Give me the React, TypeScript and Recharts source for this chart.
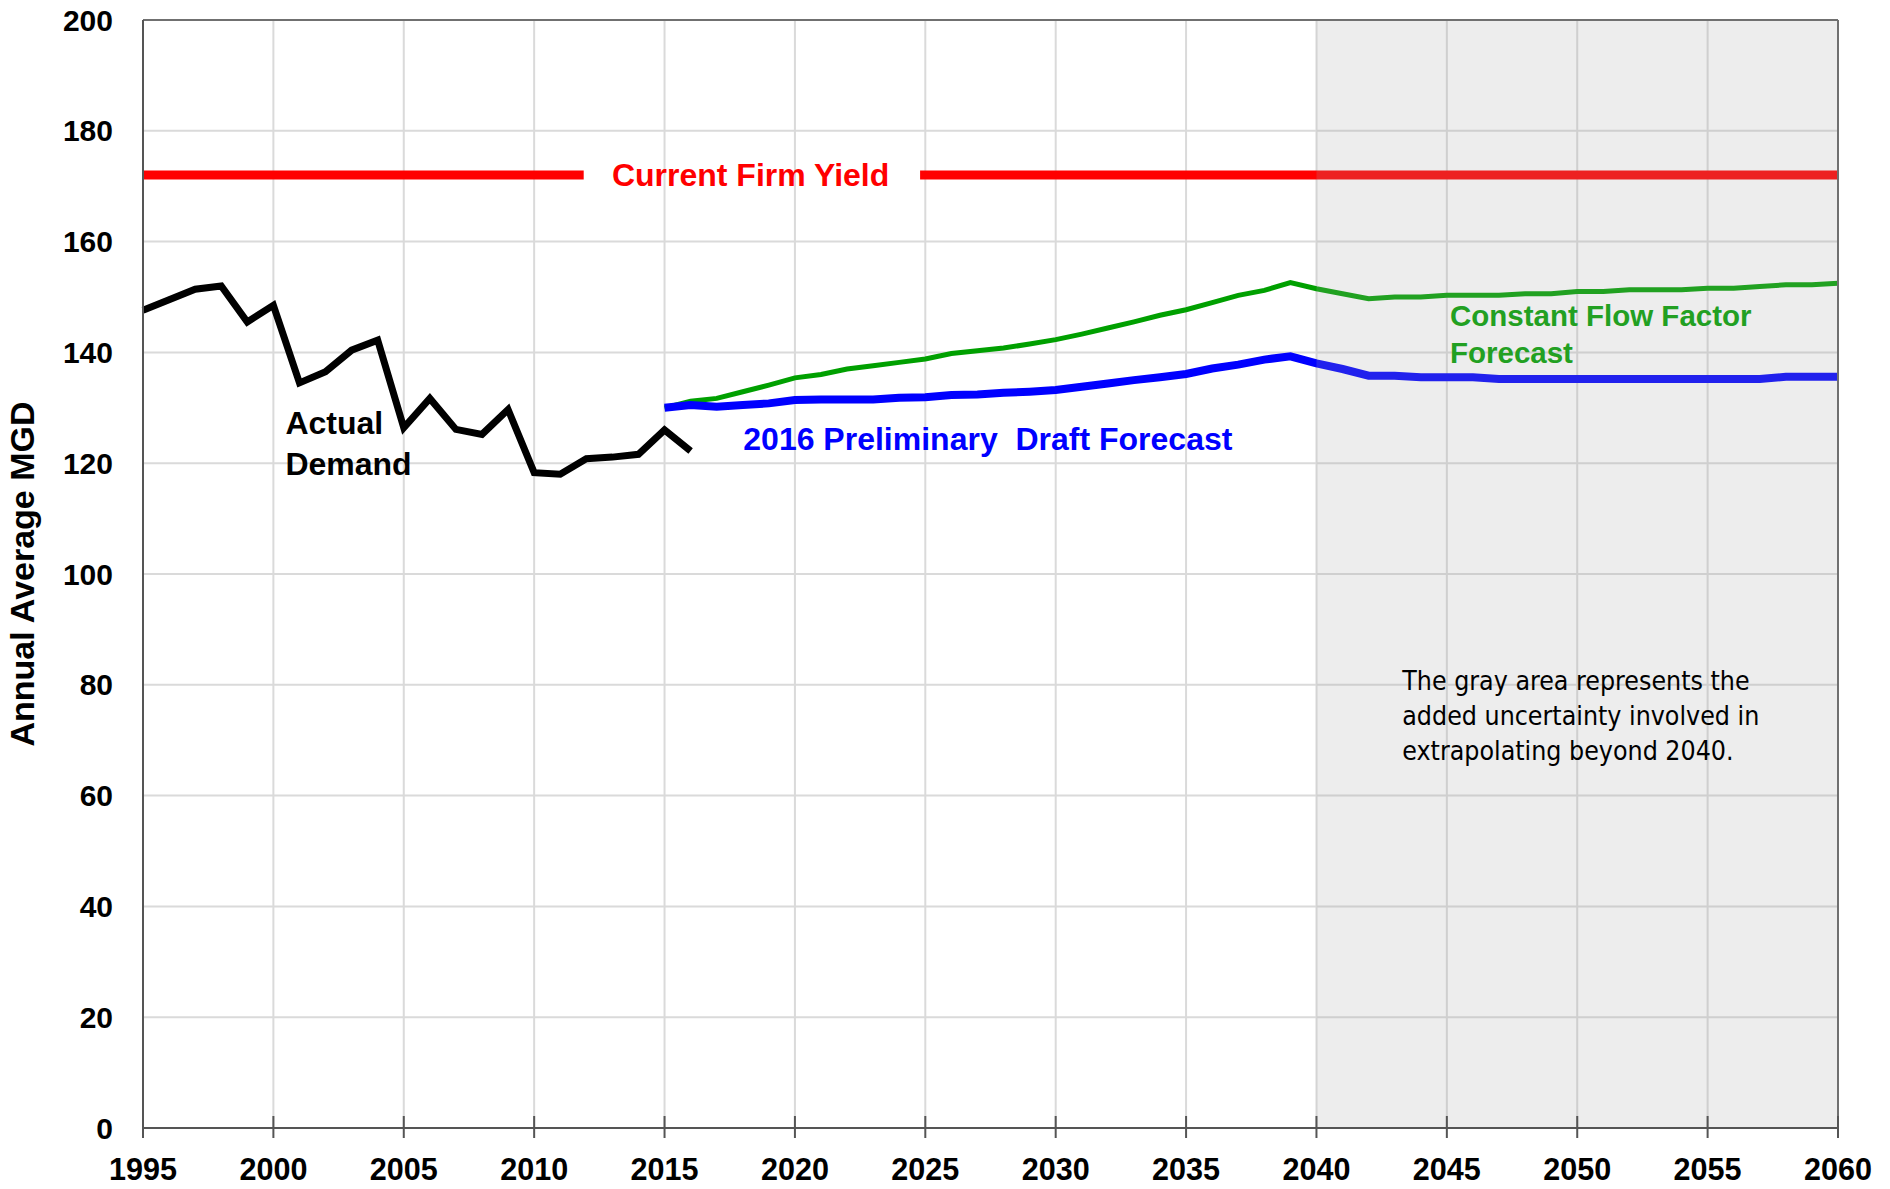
import React from "react";
import {
  LineChart,
  Line,
  XAxis,
  YAxis,
  CartesianGrid,
  ReferenceArea,
  ReferenceLine,
  ReferenceDot,
} from "recharts";

// years on the x axis
const YEARS = [
  1995, 1996, 1997, 1998, 1999, 2000, 2001, 2002, 2003, 2004, 2005, 2006,
  2007, 2008, 2009, 2010, 2011, 2012, 2013, 2014, 2015, 2016, 2017, 2018,
  2019, 2020, 2021, 2022, 2023, 2024, 2025, 2026, 2027, 2028, 2029, 2030,
  2031, 2032, 2033, 2034, 2035, 2036, 2037, 2038, 2039, 2040, 2041, 2042,
  2043, 2044, 2045, 2046, 2047, 2048, 2049, 2050, 2051, 2052, 2053, 2054,
  2055, 2056, 2057, 2058, 2059, 2060,
];

// Actual demand, 1995 - 2016
const ACTUAL_START = 1995;
const ACTUAL = [
  147.6, 149.5, 151.4, 152.0, 145.5, 148.5, 134.5, 136.5, 140.4, 142.2, 126.4,
  131.7, 126.1, 125.2, 129.7, 118.3, 118.0, 120.8, 121.1, 121.6, 126.0, 122.2,
];

// forecasts, 2015 - 2060
const FORECAST_START = 2015;
const DRAFT_FORECAST = [
  130.0, 130.5, 130.2, 130.5, 130.8, 131.4, 131.5, 131.5, 131.5, 131.8, 131.9,
  132.3, 132.4, 132.7, 132.9, 133.2, 133.8, 134.4, 135.0, 135.5, 136.1, 137.1,
  137.8, 138.7, 139.3, 138.0, 137.0, 135.8, 135.8, 135.5, 135.5, 135.5, 135.2,
  135.2, 135.2, 135.2, 135.2, 135.2, 135.2, 135.2, 135.2, 135.2, 135.2, 135.6,
  135.6, 135.6,
];
const FLOW_FACTOR_FORECAST = [
  130.0, 131.2, 131.7, 132.9, 134.1, 135.4, 136.0, 137.0, 137.6, 138.2, 138.8,
  139.8, 140.3, 140.8, 141.5, 142.3, 143.3, 144.4, 145.5, 146.7, 147.7, 149.0,
  150.3, 151.2, 152.6, 151.5, 150.6, 149.7, 150.0, 150.0, 150.3, 150.3, 150.3,
  150.6, 150.6, 151.0, 151.0, 151.3, 151.3, 151.3, 151.6, 151.6, 151.9, 152.2,
  152.2, 152.5,
];

const FIRM_YIELD = 172;
const FIRM_YIELD_SEGMENTS = [
  [1995, 2011.9],
  [2024.8, 2060],
];

const X_TICKS = [
  1995, 2000, 2005, 2010, 2015, 2020, 2025, 2030, 2035, 2040, 2045, 2050,
  2055, 2060,
];
const Y_TICKS = [0, 20, 40, 60, 80, 100, 120, 140, 160, 180, 200];
const UNCERTAIN_FROM = 2040;

const NOTE_LINES = [
  "The gray area represents the",
  "added uncertainty involved in",
  "extrapolating beyond 2040.",
];

const data = YEARS.map((year) => {
  const a = year - ACTUAL_START;
  const f = year - FORECAST_START;
  return {
    year,
    actual: a >= 0 && a < ACTUAL.length ? ACTUAL[a] : null,
    draft: f >= 0 ? DRAFT_FORECAST[f] : null,
    flow: f >= 0 ? FLOW_FACTOR_FORECAST[f] : null,
  };
});

const FONT = "'Liberation Sans', Arial, sans-serif";

const XTick = (props: any) => {
  const { x, y, payload } = props;
  return (
    <g>
      <line x1={x} x2={x} y1={y - 12} y2={y + 10} stroke="#555" strokeWidth={2} />
      <text
        x={x}
        y={y + 52}
        textAnchor="middle"
        fontFamily={FONT}
        fontWeight="bold"
        fontSize={32}
        textLength={68}
        lengthAdjust="spacingAndGlyphs"
        fill="#000"
      >
        {payload.value}
      </text>
    </g>
  );
};

const textShape =
  (lines: string[], color: string, size: number, lineGap: number, opts: any = {}) =>
  (p: any) =>
    (
      <text
        x={p.cx}
        y={p.cy}
        fill={color}
        fontFamily={opts.family || FONT}
        fontWeight={opts.weight || "bold"}
        fontSize={size}
        textAnchor={opts.anchor || "start"}
        style={{ whiteSpace: "pre" }}
      >
        {lines.map((l, i) => (
          <tspan key={i} x={p.cx} dy={i === 0 ? 0 : lineGap}>
            {l}
          </tspan>
        ))}
      </text>
    );

export default function App() {
  return (
    <div style={{ position: "absolute", left: 0, top: 0, width: 1890, height: 1189, background: "#fff" }}>
      <LineChart
        width={1890}
        height={1189}
        data={data}
        margin={{ top: 20, right: 52, bottom: 0, left: 0 }}
      >
        <CartesianGrid stroke="#dadada" strokeWidth={2} />
        <XAxis
          dataKey="year"
          type="number"
          domain={[1995, 2060]}
          ticks={X_TICKS}
          interval={0}
          height={61}
          tickSize={0}
          tickMargin={0}
          tickLine={false}
          axisLine={{ stroke: "#555", strokeWidth: 2 }}
          tick={<XTick />}
        />
        <YAxis
          type="number"
          domain={[0, 200]}
          ticks={Y_TICKS}
          interval={0}
          width={143}
          tickSize={0}
          tickMargin={30}
          tickLine={false}
          axisLine={{ stroke: "#555", strokeWidth: 2 }}
          tick={{ fill: "#000", fontSize: 30, fontWeight: "bold", fontFamily: FONT }}
          label={{
            value: "Annual Average MGD",
            angle: -90,
            position: "insideLeft",
            offset: 22,
            style: { textAnchor: "middle", fontSize: 34, fontWeight: "bold", fontFamily: FONT, fill: "#000" },
          }}
        />
        {FIRM_YIELD_SEGMENTS.map(([x1, x2], i) => (
          <ReferenceLine
            key={i}
            segment={[
              { x: x1, y: FIRM_YIELD },
              { x: x2, y: FIRM_YIELD },
            ]}
            stroke="#ff0000"
            strokeWidth={9}
            zIndex={400}
          />
        ))}
        <Line
          dataKey="flow"
          stroke="#00a000"
          strokeWidth={5}
          dot={false}
          isAnimationActive={false}
        />
        <Line
          dataKey="draft"
          stroke="#0000ff"
          strokeWidth={8}
          dot={false}
          isAnimationActive={false}
        />
        <Line
          dataKey="actual"
          stroke="#000"
          strokeWidth={7}
          dot={false}
          isAnimationActive={false}
        />
        <ReferenceArea
          x1={UNCERTAIN_FROM}
          x2={2060}
          y1={0}
          y2={200}
          fill="#a3a3a3"
          fillOpacity={0.2}
          stroke="none"
          zIndex={450}
        />
        <ReferenceLine y={200} stroke="#707070" strokeWidth={2} zIndex={460} />
        <ReferenceLine x={2060} stroke="#707070" strokeWidth={2} zIndex={460} />

        <ReferenceDot x={2018.3} y={170.0} r={1} zIndex={2000}
          shape={textShape(["Current Firm Yield"], "#ff0000", 32, 0, { anchor: "middle" })} />
        <ReferenceDot x={2000.46} y={125.2} r={1} zIndex={2000}
          shape={textShape(["Actual", "Demand"], "#000", 32, 41)} />
        <ReferenceDot x={2018.02} y={122.3} r={1} zIndex={2000}
          shape={textShape(["2016 Preliminary  Draft Forecast"], "#0000ff", 32, 0)} />
        <ReferenceDot x={2045.12} y={144.7} r={1} zIndex={2000}
          shape={textShape(["Constant Flow Factor", "Forecast"], "#22a022", 29.5, 37)} />
        <ReferenceDot x={2043.29} y={79.0} r={1} zIndex={2000}
          shape={textShape(NOTE_LINES, "#000", 26.5, 35, { family: "'DejaVu Sans Condensed', 'DejaVu Sans', sans-serif", weight: "normal" })} />
      </LineChart>
    </div>
  );
}
